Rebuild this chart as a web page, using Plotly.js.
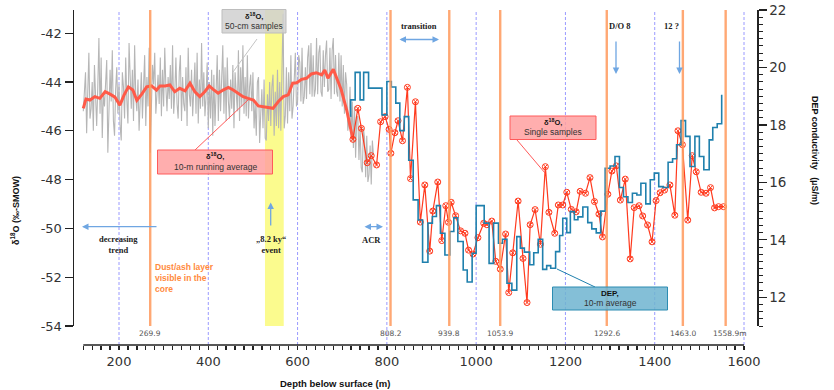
<!DOCTYPE html>
<html><head><meta charset="utf-8">
<script src="https://cdn.plot.ly/plotly-3.0.1.min.js"></script>
<style>body{margin:0;background:#fff}#c{width:834px;height:390px}</style>
</head><body><div id="c"></div>
<script>
// ---- data ----
// 50-cm samples (start depth, spacing in m, values)
const grayStart = 120, grayStep = 2.5;
const grayD18O = [
-45.2,-44.1,-43.6,-46.1, -44.4,-42.8,-45.5,-45.1, -44.0,-46.0,-43.3,-44.6, -45.8,-44.2,-42.2,-45.3,
-43.0,-46.3,-44.5,-45.0, -44.0,-43.1,-46.9,-45.4, -43.5,-44.8,-42.7,-45.6, -46.2,-44.3,-43.4,-45.3,
-44.1,-45.8,-46.4,-43.6, -44.2,-45.5,-43.0,-44.7, -45.7,-42.4,-44.2,-45.1, -43.5,-45.6,-42.5,-44.6,
-45.2,-43.9,-46.0,-44.8, -43.6,-45.5,-44.5,-42.9, -45.8,-43.8,-45.0,-42.6, -46.9,-45.2,-43.3,-44.1,
-42.8,-45.3,-44.6,-43.7, -44.9,-43.0,-45.4,-43.5, -45.0,-42.6,-44.2,-45.2, -43.8,-44.7,-43.3,-45.1,
-42.5,-45.3,-44.4,-43.0, -44.9,-45.5,-43.6,-42.9, -45.6,-43.8,-44.9,-45.2, -43.4,-45.8,-42.6,-44.5,
-45.0,-43.5,-45.4,-44.0, -43.2,-45.3,-42.8,-45.7, -43.9,-45.1,-42.4,-45.0, -43.6,-45.4,-44.6,-43.2,
-45.9,-44.0,-45.5,-43.5, -46.2,-43.7,-45.8,-44.4, -42.9,-45.6,-43.5,-45.2, -44.0,-42.5,-45.3,-43.4,
-45.6,-43.0,-44.8,-45.5, -43.9,-45.1,-43.3,-45.9, -43.6,-44.7,-45.2,-42.7, -45.6,-43.4,-45.0,-42.5,
-45.3,-43.8,-45.4,-42.9, -45.5,-44.2,-43.7,-45.2,
-43.6,-45.9,-44.9,-46.2, -44.0,-43.8,-46.5,-45.3, -44.3,-45.9,-43.9,-46.3, -46.4,-44.5,-45.6,-44.0,
-45.8,-44.2,-43.7,-46.2, -44.4,-45.8,-43.5,-45.9, -44.0,-46.0,-43.1,-41.2, -45.9,-45.4,-43.4,-45.7,
-43.6,-45.2,-42.9,-45.5, -45.0,-43.4,-42.8,-45.0,
-44.8,-42.9,-43.2,-44.8, -42.6,-44.9,-44.6,-43.4, -44.7,-43.0,-42.5,-44.5, -42.4,-44.6,-42.9,-44.6,
-44.3,-42.2,-44.5,-42.8, -42.5,-44.4,-44.6,-42.7, -44.2,-42.9,-42.3,-44.4, -44.3,-42.6,-44.7,-42.7,
-42.2,-44.5,-42.9,-44.4, -44.6,-42.8,-44.8,-42.9, -45.0,-43.3,-45.3,-43.6, -44.1,-46.0,-45.6,-44.2,
-46.3,-44.8,-46.7,-45.0, -47.1,-45.5,-45.4,-47.2, -45.8,-47.5,-47.7,-45.9, -46.3,-47.9,-46.2,-48.1,
-47.8,-46.6,-48.2,-46.4, -47.0];

// 10-m running average
const raDepth = [120,126,135,146,157,169,180,191,202,211,221,231,240,251,262,273,284,292,303,314,325,336,348,359,370,381,392,402,411,422,433,445,456,467,478,489,501,512,523,534,545,557,568,579,589,598,609,620,631,642,654,661,668,680,688,698,710,717,724];
const raD18O = [-45.08,-44.7,-44.74,-44.6,-44.67,-44.4,-44.5,-44.62,-44.95,-44.55,-44.2,-44.33,-44.75,-44.5,-44.2,-44.16,-44.33,-44.16,-44.16,-44.12,-44.4,-44.26,-44.36,-44.05,-44.4,-44.6,-44.4,-44.16,-44.3,-44.46,-44.33,-44.22,-44.33,-44.46,-44.6,-44.67,-44.74,-44.98,-45.01,-45.04,-45.08,-44.8,-44.6,-44.53,-44.05,-44.03,-43.89,-43.85,-43.67,-43.62,-43.71,-43.51,-43.85,-43.48,-43.85,-44.33,-45.15,-45.83,-46.35];

// single samples
const ssDepth = [724,735,743,756,765,777,786,796,805,809,818,825,835,846,853,864,875,885,896,903,914,923,932,938,944,954,965,975,983,993,1004,1017,1024,1035,1044,1054,1066,1073,1082,1094,1105,1114,1121,1132,1144,1155,1163,1176,1184,1194,1203,1213,1224,1233,1245,1255,1265,1275,1283,1295,1304,1314,1323,1334,1345,1354,1365,1373,1384,1394,1403,1412,1422,1434,1445,1452,1462,1474,1484,1493,1504,1515,1525,1534,1543,1554];
const ssD18O = [-46.35,-45.08,-45.9,-47.31,-47.02,-47.4,-45.63,-45.42,-45.94,-46.92,-46.08,-45.59,-46.41,-44.22,-47.96,-44.81,-49.74,-48.22,-50.93,-49.29,-48.1,-50.5,-49.07,-49.75,-48.93,-49.48,-50.1,-50.2,-50.89,-51.05,-50.38,-49.79,-49.85,-49.7,-51.35,-51.67,-50.23,-52.63,-51.0,-48.88,-51.23,-53.04,-49.85,-49.23,-50.65,-47.47,-49.34,-50.2,-49.04,-49.04,-48.52,-49.22,-49.32,-48.48,-48.56,-47.92,-48.9,-49.41,-50.35,-48.6,-47.65,-47.44,-48.84,-47.98,-51.25,-49.15,-49.07,-49.49,-49.86,-50.55,-48.86,-48.54,-48.43,-48.22,-49.46,-46.0,-46.57,-49.66,-47.02,-47.68,-48.52,-48.56,-48.33,-49.16,-49.11,-49.11];

// DEP conductivity 10-m average (step start depth, value)
const depDepth = [718,719,729,740,748,759,789,800,810,820,829,839,849,859,870,880,892,902,911,920,930,941,950,959,971,980,991,1000,1018,1029,1039,1050,1059,1069,1080,1091,1099,1108,1120,1129,1139,1149,1158,1167,1178,1187,1194,1203,1211,1220,1228,1239,1250,1259,1269,1279,1289,1300,1311,1321,1330,1340,1350,1360,1369,1380,1390,1399,1409,1419,1430,1440,1449,1459,1469,1479,1490,1500,1510,1522,1530,1540,1550];
const depCond = [18.3,18.87,19.83,18.87,19.83,19.28,18.35,19.51,19.32,18.76,17.8,18.29,16.77,15.39,14.69,13.22,14.58,14.81,15.19,14.23,13.47,14.29,14.77,13.94,12.95,12.53,13.53,15.19,14.58,13.18,14.58,13.88,14.02,12.49,12.25,14.11,13.71,13.57,13.13,13.55,14.02,12.97,13.1,13.01,13.59,14.15,14.75,14.25,14.98,14.7,14.8,15.14,14.6,14.38,14.24,15.0,16.49,16.57,16.9,15.82,15.5,15.3,15.62,15.56,15.97,15.25,16.09,16.32,15.85,15.82,16.7,16.82,17.31,18.15,17.6,16.55,17.6,16.9,16.44,17.48,17.91,18.04,19.05];

// markers
const dustDepths = [269.9, 808.2, 939.8, 1053.9, 1292.6, 1463.0, 1558.9];
const dustLabels = ["269.9","808.2","939.8","1053.9","1292.6","1463.0","1558.9m"];
const gridDepths = [200,400,600,800,1000,1200,1400,1600];
const event82 = [527, 569];
const xTickVals = [200,400,600,800,1000,1200,1400,1600];
const yTickVals = [-54,-52,-50,-48,-46,-44,-42];
const y2TickVals = [12,14,16,18,20,22];

// ---- build ----
const grayDepth = grayD18O.map((_, i) => grayStart + i * grayStep);
const minorX = []; for (let v = 120; v <= 1600; v += 20) minorX.push(v);

const PX = x => (x - 74) / 683, PY = y => (345 - y) / 335;
const serif = 'Liberation Serif', sans = 'Liberation Sans';

const traces = [
  {x: grayDepth, y: grayD18O, type: 'scatter', mode: 'lines', line: {color: '#b6b6b6', width: 1.1}, hoverinfo: 'skip'},
  {x: raDepth, y: raD18O, type: 'scatter', mode: 'lines', line: {color: '#ff5a48', width: 3}, hoverinfo: 'skip'},
  {x: depDepth, y: depCond, yaxis: 'y2', type: 'scatter', mode: 'lines', line: {color: '#1f80ad', width: 1.6, shape: 'hv'}, hoverinfo: 'skip'},
  {x: ssDepth, y: ssD18O, type: 'scatter', mode: 'lines+markers', line: {color: '#ff3a1e', width: 1.2},
   marker: {symbol: 'circle-x-open', size: 6, color: '#ff3a1e', line: {width: 1, color: '#ff3a1e'}}, hoverinfo: 'skip'}
];

const shapes = [];
shapes.push({type: 'rect', xref: 'x', yref: 'y', x0: event82[0], x1: event82[1], y0: -54, y1: -41.05,
  fillcolor: '#fbfb8e', line: {width: 0}, layer: 'below'});
gridDepths.forEach(d => shapes.push({type: 'line', xref: 'x', yref: 'paper', x0: d, x1: d, y0: 0, y1: 1,
  line: {color: '#9a9aff', width: 1, dash: '3px,2px'}, layer: 'below'}));
dustDepths.forEach(d => shapes.push({type: 'line', xref: 'x', yref: 'y', x0: d, x1: d, y0: -54, y1: -41.05,
  line: {color: '#ff9a5c', width: 2.4}, opacity: 0.85, layer: 'above'}));
// x axis line
shapes.push({type: 'line', xref: 'x', yref: 'paper', x0: 120, x1: 1600, y0: 0, y1: 0, line: {color: '#222', width: 1.5}});
// callout boxes and leaders
function box(x0, y0, x1, y1, fill, border) {
  shapes.push({type: 'rect', xref: 'paper', yref: 'paper', x0: PX(x0), x1: PX(x1), y0: PY(y1), y1: PY(y0),
    fillcolor: fill, line: {color: border, width: 1}, layer: 'above'});
}
function seg(x0, y0, x1, y1, c) {
  shapes.push({type: 'line', xref: 'paper', yref: 'paper', x0: PX(x0), x1: PX(x1), y0: PY(y0), y1: PY(y1),
    line: {color: c, width: 1}, layer: 'above'});
}
seg(257, 39, 233, 72, '#c4c4c4');
box(222, 9.5, 286, 33, 'rgba(208,208,208,0.85)', '#bdbdbd');
seg(195, 150, 248, 100, '#ff5a5a');
box(157.5, 150, 272.5, 174, 'rgba(255,160,160,0.85)', '#ff5a5a');
seg(517, 140, 545, 173, '#ff5a5a');
box(510, 116, 596, 139.5, 'rgba(255,160,160,0.85)', '#ff5a5a');
seg(595, 287, 557, 269, '#1f80ad');
box(552.5, 287, 667.5, 310, 'rgba(110,180,208,0.85)', '#2c8cb2');

const ann = [];
function txt(x, y, text, size, color, family, extra) {
  ann.push(Object.assign({xref: 'paper', yref: 'paper', x: PX(x), y: PY(y), text: text, showarrow: false,
    font: {size: size, color: color, family: family}, xanchor: 'center', yanchor: 'middle'}, extra || {}));
}
function arrow(xh, yh, xt, yt, both) {
  ann.push({xref: 'paper', yref: 'paper', x: PX(xh), y: PY(yh), ax: xt - xh, ay: yt - yh, text: '',
    showarrow: true, arrowhead: 2, arrowsize: 1, arrowwidth: 1.3, arrowcolor: '#6fa6e2',
    arrowside: both ? 'end+start' : 'end'});
}
// box texts
txt(254, 15.5, '<b>δ<sup>18</sup>O,</b>', 7.5, '#111', sans);
txt(254, 26, '50-cm samples', 8.5, '#333', sans);
txt(215, 156, '<b>δ<sup>18</sup>O,</b>', 7.5, '#111', sans);
txt(215, 167, '10-m running average', 8.5, '#333', sans);
txt(553, 121.5, '<b>δ<sup>18</sup>O,</b>', 7.5, '#111', sans);
txt(553, 132, 'Single samples', 8.5, '#333', sans);
txt(610, 293, '<b>DEP,</b>', 8, '#111', sans);
txt(610, 303, '10-m average', 8.5, '#333', sans);
// event labels
txt(418.5, 26, '<b>transition</b>', 8.5, '#222', serif);
arrow(439, 39.5, 398, 39.5, true);
txt(620, 26, '<b>D/O 8</b>', 8.5, '#222', serif);
arrow(616, 74, 616, 40, false);
txt(671, 26, '<b>12 ?</b>', 8.5, '#222', serif);
arrow(679.5, 74, 679.5, 40, false);
txt(118.5, 244.5, '<b>decreasing<br>trend</b>', 8.5, '#222', serif);
arrow(82, 226.7, 158, 226.7, false);
txt(271, 244.5, '<b>„8.2 ky“<br>event</b>', 8.5, '#222', serif);
arrow(270.7, 202.5, 270.7, 227, false);
txt(371.5, 239.5, '<b>ACR</b>', 8.5, '#222', serif);
arrow(383, 226.7, 363, 226.7, true);
txt(153, 277.5, '<b>Dust/ash layer<br>visible in the<br>core</b>', 8.5, '#ff8a3d', sans, {xanchor: 'left', align: 'left'});
// depth labels
dustDepths.forEach((d, i) => ann.push({xref: 'x', yref: 'paper', x: d + (i === 6 ? 9 : 0), y: PY(333), text: dustLabels[i],
  showarrow: false, font: {size: 7.5, color: '#555', family: 'DejaVu Sans'}, xanchor: 'center', yanchor: 'middle'}));
// axis titles
txt(335, 383, '<b>Depth below surface (m)</b>', 9.5, '#111', sans);
txt(15, 211, '<b>δ<sup>18</sup>O (‰-SMOW)</b>', 9, '#111', sans, {textangle: -90});
txt(815, 150, '<b>DEP conductivity   (µS/m)</b>', 9, '#111', sans, {textangle: 90});

const tickFont = {family: 'DejaVu Sans', size: 13, color: '#333'};
const layout = {
  width: 834, height: 390, margin: {l: 74, r: 77, t: 10, b: 45},
  paper_bgcolor: '#fff', plot_bgcolor: '#fff', showlegend: false,
  xaxis: {range: [99.2, 1629.1], anchor: 'free', position: 0, showline: false, showgrid: false, zeroline: false,
    tickmode: 'array', tickvals: xTickVals, ticks: 'outside', ticklen: 4, tickwidth: 1.3, tickcolor: '#222',
    tickfont: tickFont,
    minor: {tickmode: 'array', tickvals: minorX, ticks: 'outside', ticklen: 4, tickwidth: 1.3, tickcolor: '#222', showgrid: false}},
  yaxis: {domain: [19 / 335, 1], range: [-54, -41.05], showline: true, linecolor: '#222', linewidth: 1.5,
    showgrid: false, zeroline: false, tickmode: 'array', tickvals: yTickVals, ticktext: yTickVals.map(String),
    ticks: 'outside', ticklen: 8, tickwidth: 1.3, tickcolor: '#222', tickfont: tickFont},
  yaxis2: {overlaying: 'y', side: 'right', range: [11, 22], showline: true, linecolor: '#222', linewidth: 1.5,
    showgrid: false, zeroline: false, tickmode: 'array', tickvals: y2TickVals, ticks: 'outside', ticklen: 8,
    tickwidth: 1.3, tickcolor: '#222', tickfont: {family: 'DejaVu Sans', size: 13.5, color: '#333'},
    minor: {dtick: 0.25, tick0: 11, ticks: 'outside', ticklen: 4, tickwidth: 1, tickcolor: '#222', showgrid: false}},
  shapes: shapes, annotations: ann
};
Plotly.newPlot('c', traces, layout, {displayModeBar: false, staticPlot: true});
</script></body></html>
